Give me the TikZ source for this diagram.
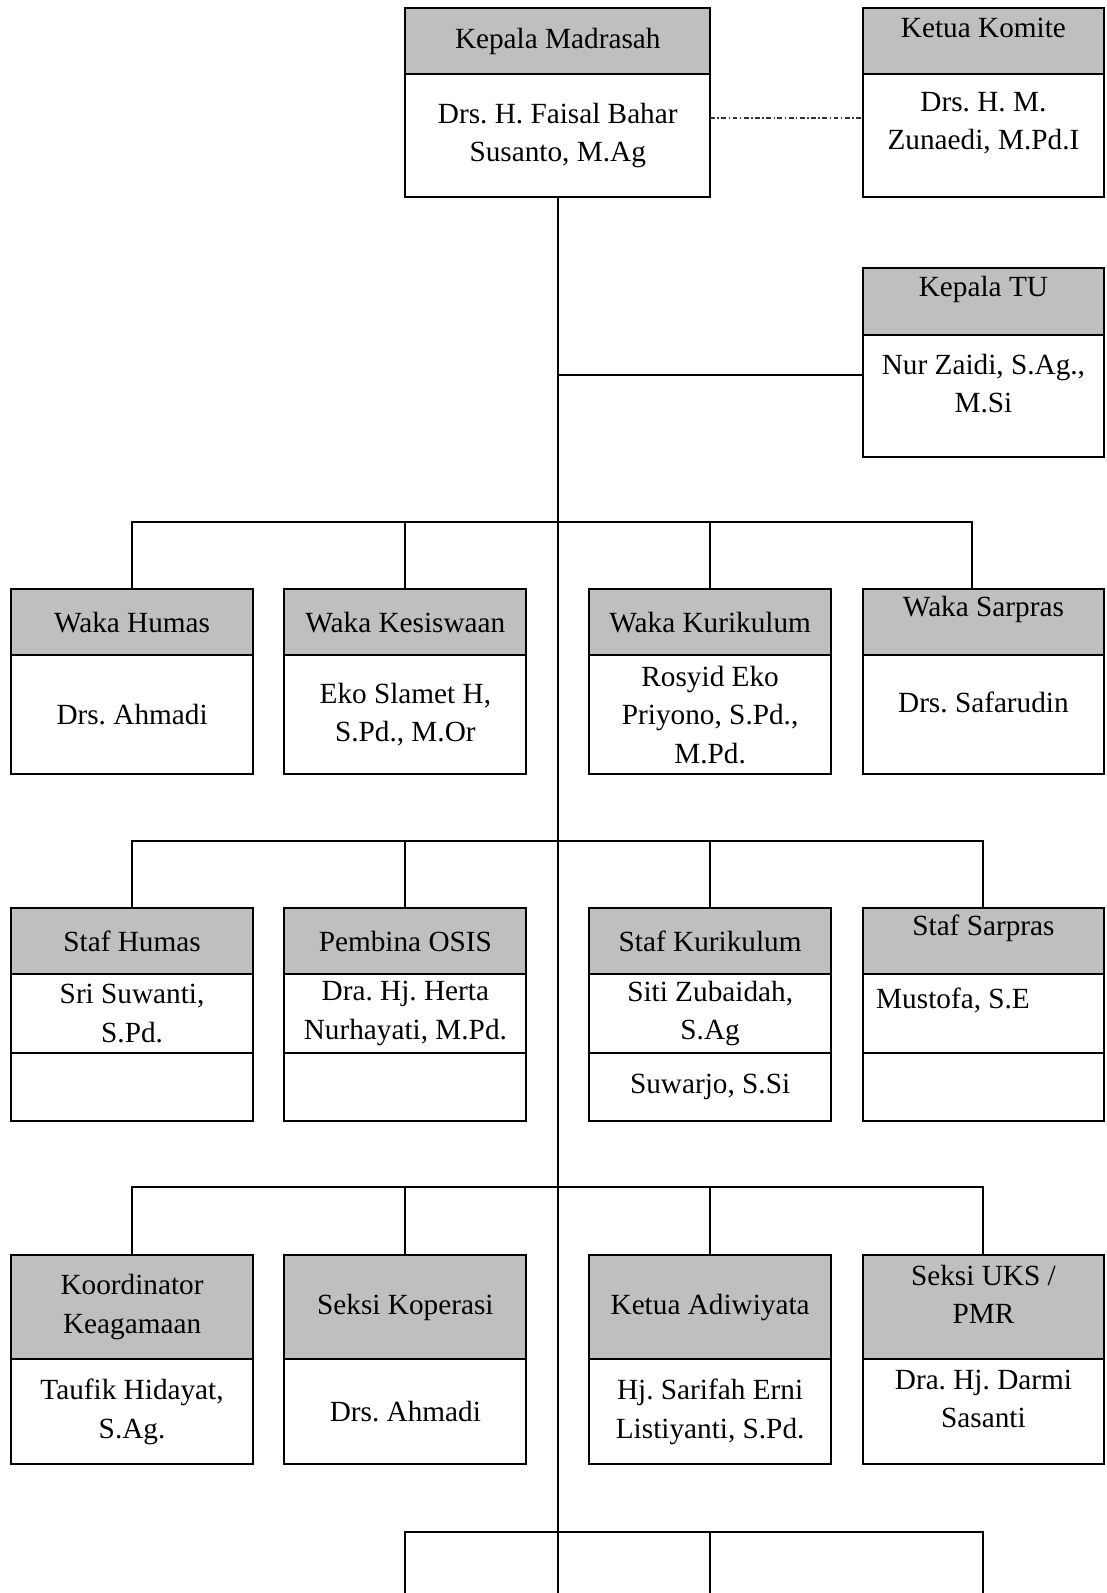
\documentclass[tikz,border=0pt]{standalone}
\usepackage{fontspec}
\setmainfont{Liberation Serif}
\usetikzlibrary{positioning}
\definecolor{headgray}{HTML}{BFBFBF}
\frenchspacing

\begin{document}
\begin{tikzpicture}[x=0.4167pt, y=-0.4167pt,
    font=\fontsize{12pt}{15.8pt}\selectfont,
    cell/.style={draw, line width=0.8pt, inner sep=0pt, outer sep=0pt, minimum width={238*\u}},
    head/.style={cell, fill=headgray, minimum height={#1*\u}},
    body/.style={cell, minimum height={#1*\u}},
    txt/.style={align=center, inner sep=0pt},
    link/.style={line width=0.8pt},
    liaison/.style={line width=0.55pt, black!80, dash pattern=on 2pt off 1pt on 0.6pt off 1pt}]
  \def\u{0.4167pt}  % one pixel of the chart
  \def\lift{12.5}   % texts of the right column sit higher

  \useasboundingbox (0,0) rectangle (1089,1568);

  % head of school and committee
  \node[head=65, minimum width={300*\u}] (kmH) at (549,40.5) {};
  \node[body=121, minimum width={300*\u}, below=0pt of kmH] (kmB) {};
  \node[txt] (kmT) at (kmH) {Kepala Madrasah};
  \node[txt] (kmN) at (kmB) {Drs. H. Faisal Bahar\\Susanto, M.Ag};

  \node[head=65] (komH) at (968,40.5) {};
  \node[body=121, below=0pt of komH] (komB) {};
  \node[txt] (komT) at ([yshift={\lift*\u}]komH.center) {Ketua Komite};
  \node[txt] (komN) at ([yshift={\lift*\u}]komB.center) {Drs. H. M.\\Zunaedi, M.Pd.I};

  % administration
  \node[head=66] (tuH) at (968,297) {};
  \node[body=120, below=0pt of tuH] (tuB) {};
  \node[txt] (tuT) at ([yshift={\lift*\u}]tuH.center) {Kepala TU};
  \node[txt] (tuN) at ([yshift={\lift*\u}]tuB.center) {Nur Zaidi, S.Ag.,\\M.Si};

  % vice heads
  \node[head=65] (wHumH) at (130,612.5) {};
  \node[body=117, below=0pt of wHumH] (wHumB) {};
  \node[txt] (wHumT) at (wHumH) {Waka Humas};
  \node[txt] (wHumN) at (wHumB) {Drs. Ahmadi};

  \node[head=65] (wKesH) at (399,612.5) {};
  \node[body=117, below=0pt of wKesH] (wKesB) {};
  \node[txt] (wKesT) at (wKesH) {Waka Kesiswaan};
  \node[txt] (wKesN) at (wKesB) {Eko Slamet H,\\S.Pd., M.Or};

  \node[head=65] (wKurH) at (699,612.5) {};
  \node[body=117, below=0pt of wKurH] (wKurB) {};
  \node[txt] (wKurT) at (wKurH) {Waka Kurikulum};
  \node[txt] (wKurN) at (wKurB) {Rosyid Eko\\Priyono, S.Pd.,\\M.Pd.};

  \node[head=65] (wSarH) at (968,612.5) {};
  \node[body=117, below=0pt of wSarH] (wSarB) {};
  \node[txt] (wSarT) at ([yshift={\lift*\u}]wSarH.center) {Waka Sarpras};
  \node[txt] (wSarN) at ([yshift={\lift*\u}]wSarB.center) {Drs. Safarudin};

  % staff
  \node[head=65] (sHumH) at (130,926.5) {};
  \node[body=77, below=0pt of sHumH] (sHumB) {};
  \node[body=67, below=0pt of sHumB] (sHumX) {};
  \node[txt] (sHumT) at (sHumH) {Staf Humas};
  \node[txt] (sHumN) at (sHumB) {Sri Suwanti,\\S.Pd.};

  \node[head=65] (pOsisH) at (399,926.5) {};
  \node[body=77, below=0pt of pOsisH] (pOsisB) {};
  \node[body=67, below=0pt of pOsisB] (pOsisX) {};
  \node[txt] (pOsisT) at (pOsisH) {Pembina OSIS};
  \node[txt] (pOsisN) at (pOsisB) {Dra. Hj. Herta\\Nurhayati, M.Pd.};

  \node[head=65] (sKurH) at (699,926.5) {};
  \node[body=77, below=0pt of sKurH] (sKurB) {};
  \node[body=67, below=0pt of sKurB] (sKurX) {};
  \node[txt] (sKurT) at (sKurH) {Staf Kurikulum};
  \node[txt] (sKurN) at (sKurB) {Siti Zubaidah,\\S.Ag};
  \node[txt] (sKurM) at (sKurX) {Suwarjo, S.Si};

  \node[head=65] (sSarH) at (968,926.5) {};
  \node[body=77, below=0pt of sSarH] (sSarB) {};
  \node[body=67, below=0pt of sSarB] (sSarX) {};
  \node[txt] (sSarT) at ([yshift={\lift*\u}]sSarH.center) {Staf Sarpras};
  \node[txt, anchor=west] (sSarN) at ([xshift={13*\u}, yshift={\lift*\u}]sSarB.west) {Mustofa, S.E};

  % sections
  \node[head=103] (kKeaH) at (130,1286.5) {};
  \node[body=103, below=0pt of kKeaH] (kKeaB) {};
  \node[txt] (kKeaT) at (kKeaH) {Koordinator\\Keagamaan};
  \node[txt] (kKeaN) at (kKeaB) {Taufik Hidayat,\\S.Ag.};

  \node[head=103] (sKopH) at (399,1286.5) {};
  \node[body=103, below=0pt of sKopH] (sKopB) {};
  \node[txt] (sKopT) at (sKopH) {Seksi Koperasi};
  \node[txt] (sKopN) at (sKopB) {Drs. Ahmadi};

  \node[head=103] (kAdiH) at (699,1286.5) {};
  \node[body=103, below=0pt of kAdiH] (kAdiB) {};
  \node[txt] (kAdiT) at (kAdiH) {Ketua Adiwiyata};
  \node[txt] (kAdiN) at (kAdiB) {Hj. Sarifah Erni\\Listiyanti, S.Pd.};

  \node[head=103] (sUksH) at (968,1286.5) {};
  \node[body=103, below=0pt of sUksH] (sUksB) {};
  \node[txt] (sUksT) at ([yshift={\lift*\u}]sUksH.center) {Seksi UKS /\\PMR};
  \node[txt] (sUksN) at ([yshift={\lift*\u}]sUksB.center) {Dra. Hj. Darmi\\Sasanti};

  % trunk, side links
  \coordinate (trunkEnd) at (549,1568);
  \coordinate (tuJoin) at (549,369);
  \coordinate (liaisonY) at (0,116);
  \draw[link] (kmB.south) -- (trunkEnd);
  \draw[link] (tuJoin) -- (tuJoin -| tuB.west);
  \draw[liaison] (kmB.east |- liaisonY) -- (komB.west |- liaisonY);

  % buses
  \coordinate (bus1) at (0,514);
  \coordinate (bus2) at (0,828);
  \coordinate (bus3) at (0,1168);
  \coordinate (bus4) at (0,1508);
  \coordinate (wSarDrop) at (957,580);

  \draw[link] (wHumH.north) |- (wSarDrop |- bus1) -- (wSarDrop);
  \foreach \c in {wKesH, wKurH}
    \draw[link] (\c.north) -- (\c.north |- bus1);

  \draw[link] (sHumH.north) |- (sSarH.north |- bus2) -- (sSarH.north);
  \foreach \c in {pOsisH, sKurH}
    \draw[link] (\c.north) -- (\c.north |- bus2);

  \draw[link] (kKeaH.north) |- (sUksH.north |- bus3) -- (sUksH.north);
  \foreach \c in {sKopH, kAdiH}
    \draw[link] (\c.north) -- (\c.north |- bus3);

  % next row, cut off by the page
  \coordinate (lowA) at (399,1568);
  \coordinate (lowB) at (699,1568);
  \coordinate (lowC) at (968,1568);
  \draw[link] (lowA) |- (lowC |- bus4) -- (lowC);
  \draw[link] (lowB) -- (lowB |- bus4);
\end{tikzpicture}
\end{document}
